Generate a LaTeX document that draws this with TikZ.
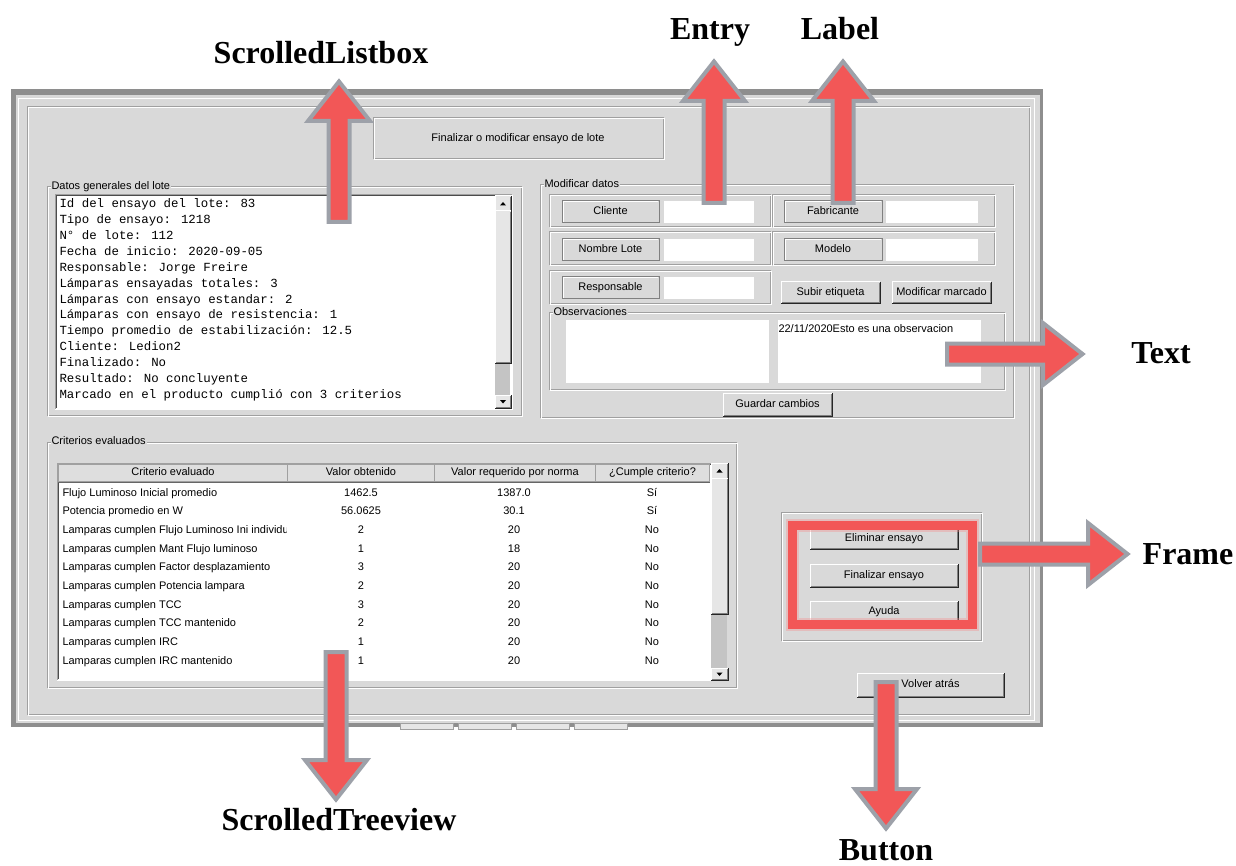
\documentclass[tikz,border=0pt]{standalone}
\usepackage{fontspec}
\setmainfont{Liberation Sans}
\newfontfamily\uifont{Liberation Sans}
\newfontfamily\lbfont{Liberation Mono}
\newfontfamily\tagfont{Liberation Serif}
\usetikzlibrary{arrows.meta,calc}

\definecolor{winbg}{HTML}{D9D9D9}
\definecolor{winedge}{HTML}{8E8E8E}
\definecolor{etch}{HTML}{A0A0A0}
\definecolor{calloutred}{HTML}{F25757}
\definecolor{calloutgray}{HTML}{9DA1A9}
\definecolor{trough}{HTML}{C4C4C4}
\definecolor{thumbc}{HTML}{E6E6E6}
\definecolor{headc}{HTML}{DEDEDE}

\tikzset{
  ui/.style={font=\uifont\fontsize{11}{13}\selectfont, text height=8pt, text depth=2.5pt, inner sep=0pt},
  lbline/.style={font=\lbfont\fontsize{12.4}{15}\selectfont, anchor=base west, inner sep=0pt},
  rowtext/.style={ui, anchor=base},
  tag/.style={font=\tagfont\bfseries\fontsize{32}{36}\selectfont, anchor=base, inner sep=0pt},
  frametitle/.style={ui, fill=winbg, inner xsep=1pt, anchor=west},
}

% plain box node spanning (x1,y1)-(x2,y2)
\newcommand\widget[7]{%
  \node[inner sep=0pt, anchor=north west, minimum width={(#4)-(#2)}, minimum height={(#5)-(#3)}, #6] (#1) at (#2,#3) {#7};}
% etched (groove) frame
\newcommand\etched[5]{%
  \widget{#1}{#2}{#3}{#4}{#5}{}{}%
  \draw[etch] (#1.north west) rectangle (#1.south east);
  \draw[white] ([shift={(1,1)}]#1.north west) rectangle ([shift={(1,1)}]#1.south east);}
% raised border of a button
\newcommand\raisededge[1]{%
  \draw[white] (#1.south west) -- (#1.north west) -- (#1.north east);
  \draw[black!85] (#1.north east) -- (#1.south east) -- (#1.south west);
  \draw[etch!80!black] ([shift={(-1,1)}]#1.north east) -- ([shift={(-1,-1)}]#1.south east) -- ([shift={(1,-1)}]#1.south west);}
% sunken border of an input widget
\newcommand\sunkenedge[1]{%
  \draw[etch] (#1.south west) -- (#1.north west) -- (#1.north east);
  \draw[black!70] ([shift={(1,-1)}]#1.south west) -- ([shift={(1,1)}]#1.north west) -- ([shift={(-1,1)}]#1.north east);
  \draw[white] (#1.north east) -- (#1.south east) -- (#1.south west);}
% label box with a ridge border
\newcommand\ridgeedge[1]{%
  \draw[black!50] (#1.north west) rectangle (#1.south east);
  \draw[white] ([shift={(1,-1)}]#1.south west) -- ([shift={(1,1)}]#1.north west) -- ([shift={(-1,1)}]#1.north east);}
% vertical scrollbar: prefix x1 y1 x2 y2 thumb-end down-button-top
\newcommand\vscroll[7]{%
  \fill[trough] (#2,#3) rectangle (#4,#5);
  \widget{#1up}{#2}{#3}{#4}{#3+15}{fill=thumbc}{}\raisededge{#1up}
  \widget{#1th}{#2}{#3+15}{#4}{#6}{fill=thumbc}{}\raisededge{#1th}
  \widget{#1dn}{#2}{#7}{#4}{#5}{fill=thumbc}{}\raisededge{#1dn}
  \fill ($(#1up.center)+(-3,1.5)$) -- ++(6,0) -- ++(-3,-3.5) -- cycle;
  \fill ($(#1dn.center)+(-3,-1.5)$) -- ++(6,0) -- ++(-3,3.5) -- cycle;}
% big outlined call-out arrow from #1 to #2
\newcommand\callout[2]{%
  \coordinate (cq) at ($(#2)!43pt!(#1)$);
  \coordinate (ct) at ($(#2)!3.5pt!(#1)$);
  \filldraw[fill=calloutred, draw=calloutgray, line width=4pt, line join=miter, miter limit=10]
    ($(#1)!10.5pt!90:(#2)$) -- ($(cq)!10.5pt!-90:(#1)$) -- ($(cq)!31pt!-90:(#1)$) -- (ct)
    -- ($(cq)!31pt!90:(#1)$) -- ($(cq)!10.5pt!90:(#1)$) -- ($(#1)!10.5pt!-90:(#2)$) -- cycle;}

\begin{document}
\begin{tikzpicture}[x=1pt,y=-1pt,line width=1pt]
\useasboundingbox (0,0) rectangle (1236,866);
\fill[white] (0,0) rectangle (1236,866);

% ---------- window ----------
\fill[winedge] (11,89) rectangle (1043,727);
\fill[winbg] (16,95) rectangle (1040,723);
\draw[white] (18.5,98.5) rectangle (1034.5,720.5);
\etched{inner}{27}{107}{1028}{713}
% strip below the window
\foreach \x [count=\k] in {400,458,516,574}
  \widget{tb\k}{\x}{723}{\x+53}{729}{fill=thumbc, draw=etch}{};

% ---------- title ----------
\etched{ttl}{373}{118}{662}{158}
\node[ui] (ttlT) at (ttl) {Finalizar o modificar ensayo de lote};

% ---------- general data (listbox) ----------
\etched{fDatos}{47}{187}{520}{414}
\node[frametitle] (tDatos) at (50,187) {Datos generales del lote};
\widget{lbox}{55}{195}{511}{408}{fill=white}{}
\sunkenedge{lbox}
\foreach \t [count=\i] in {Id del ensayo del lote: 83, Tipo de ensayo: 1218, N° de lote: 112,
  Fecha de inicio: 2020-09-05, Responsable: Jorge Freire, Lámparas ensayadas totales: 3,
  Lámparas con ensayo estandar: 2, Lámparas con ensayo de resistencia: 1,
  Tiempo promedio de estabilización: 12.5, Cliente: Ledion2, Finalizado: No,
  Resultado: No concluyente, Marcado en el producto cumplió con 3 criterios}
  \node[lbline] (lb\i) at (59,{208+(\i-1)*15.85}) {\t};
\vscroll{lsb}{495}{196}{510}{407}{362}{395}

% ---------- modify data ----------
\etched{fMod}{540}{185}{1012}{416}
\node[frametitle] (tMod) at (543,185) {Modificar datos};
\etched{r1a}{549}{195}{769}{226}
\etched{r1b}{772}{195}{993}{226}
\etched{r2a}{549}{232}{769}{264}
\etched{r2b}{772}{232}{993}{264}
\etched{r3a}{549}{271}{769}{303}

\widget{lCli}{562}{201}{658}{222}{ui, fill=winbg}{Cliente}\ridgeedge{lCli}
\widget{eCli}{663}{201}{753}{223}{fill=white}{}
\widget{lFab}{784}{201}{881}{222}{ui, fill=winbg}{Fabricante}\ridgeedge{lFab}
\widget{eFab}{885}{201}{977}{223}{fill=white}{}
\widget{lNom}{562}{239}{658}{260}{ui, fill=winbg}{Nombre Lote}\ridgeedge{lNom}
\widget{eNom}{663}{239}{753}{261}{fill=white}{}
\widget{lMod}{784}{239}{881}{260}{ui, fill=winbg}{Modelo}\ridgeedge{lMod}
\widget{eMod}{885}{239}{977}{261}{fill=white}{}
\widget{lRes}{562}{277}{658}{298}{ui, fill=winbg}{Responsable}\ridgeedge{lRes}
\widget{eRes}{663}{277}{753}{299}{fill=white}{}
\widget{bSub}{781}{282}{879}{303}{ui, fill=winbg}{Subir etiqueta}\raisededge{bSub}
\widget{bMar}{892}{282}{990}{303}{ui, fill=winbg}{Modificar marcado}\raisededge{bMar}

\etched{fObs}{549}{313}{1003}{388}
\node[frametitle] (tObs) at (552,313) {Observaciones};
\widget{txtA}{565}{320}{768}{382}{fill=white}{}
\widget{txtB}{777}{320}{980}{382}{fill=white}{}
\node[ui, anchor=base west] (txtBT) at (778,333) {22/11/2020Esto es una observacion};
\widget{bGua}{723}{393}{831}{415}{ui, fill=winbg}{Guardar cambios}\raisededge{bGua}

% ---------- criteria (treeview) ----------
\etched{fCri}{47}{442}{735}{686}
\node[frametitle] (tCri) at (50,442) {Criterios evaluados};
\widget{tree}{57}{463}{711}{679}{fill=white}{}
\sunkenedge{tree}
\widget{h1}{58}{464}{287}{481}{ui, fill=headc, draw=etch}{Criterio evaluado}
\widget{h2}{287}{464}{434}{481}{ui, fill=headc, draw=etch}{Valor obtenido}
\widget{h3}{434}{464}{595}{481}{ui, fill=headc, draw=etch}{Valor requerido por norma}
\widget{h4}{595}{464}{709}{481}{ui, fill=headc, draw=etch}{¿Cumple criterio?}
\draw[black!60] (h1.south west) -- (h4.south east);
\begin{scope}
  \clip (58,482) rectangle (286,678);
  \foreach \a [count=\i] in {Flujo Luminoso Inicial promedio, Potencia promedio en W,
    Lamparas cumplen Flujo Luminoso Ini individual, Lamparas cumplen Mant Flujo luminoso,
    Lamparas cumplen Factor desplazamiento, Lamparas cumplen Potencia lampara,
    Lamparas cumplen TCC, Lamparas cumplen TCC mantenido, Lamparas cumplen IRC,
    Lamparas cumplen IRC mantenido}
    \node[rowtext, anchor=base west] (c\i a) at (62,{496+(\i-1)*18.67}) {\a};
\end{scope}
\foreach \b/\c/\d [count=\i] in {1462.5/1387.0/Sí, 56.0625/30.1/Sí, 2/20/No, 1/18/No, 3/20/No,
    2/20/No, 3/20/No, 2/20/No, 1/20/No, 1/20/No}{
  \node[rowtext] (c\i b) at (361,{496+(\i-1)*18.67}) {\b};
  \node[rowtext] (c\i c) at (514,{496+(\i-1)*18.67}) {\c};
  \node[rowtext] (c\i d) at (652,{496+(\i-1)*18.67}) {\d};
}
\vscroll{tsb}{711}{463}{727}{679}{613}{668}

% ---------- action buttons ----------
\etched{fAct}{781}{512}{980}{639}
\widget{bEli}{810}{528}{957}{548}{ui, fill=winbg}{Eliminar ensayo}\raisededge{bEli}
\widget{bFin}{810}{564}{957}{586}{ui, fill=winbg}{Finalizar ensayo}\raisededge{bFin}
\widget{bAyu}{810}{601}{957}{622}{ui, fill=winbg}{Ayuda}\raisededge{bAyu}
\draw[calloutred!70!white, line width=13pt, opacity=0.35] (792.5,525) rectangle (972.5,624.5);
\draw[calloutred, line width=9pt] (792.5,525) rectangle (972.5,624.5);
\widget{bVol}{857}{673}{1003}{696}{ui, fill=winbg}{Volver atrás}\raisededge{bVol}

% ---------- widget names with call-out arrows ----------
\node[tag] (tListbox) at (321,64) {ScrolledListbox};
\node[tag] (tEntry) at (710,40) {Entry};
\node[tag] (tLabel) at (840,40) {Label};
\node[tag] (tText) at (1161,363) {Text};
\node[tag] (tFrame) at (1188,564) {Frame};
\node[tag] (tTree) at (339,830) {ScrolledTreeview};
\node[tag] (tButton) at (886,860) {Button};

\coordinate (pLb) at (339,222);   \coordinate (qLb) at (339,78);
\coordinate (pEn) at (714,203);   \coordinate (qEn) at (714,58);
\coordinate (pLa) at (843,203);   \coordinate (qLa) at (843,58);
\coordinate (pTx) at (947,354);   \coordinate (qTx) at (1086,354);
\coordinate (pFr) at (980,554);   \coordinate (qFr) at (1131,554);
\coordinate (pTr) at (336,652);   \coordinate (qTr) at (336,803);
\coordinate (pBu) at (886,682);   \coordinate (qBu) at (886,832);
\callout{pLb}{qLb}
\callout{pEn}{qEn}
\callout{pLa}{qLa}
\callout{pTx}{qTx}
\callout{pFr}{qFr}
\callout{pTr}{qTr}
\callout{pBu}{qBu}
\end{tikzpicture}
\end{document}
